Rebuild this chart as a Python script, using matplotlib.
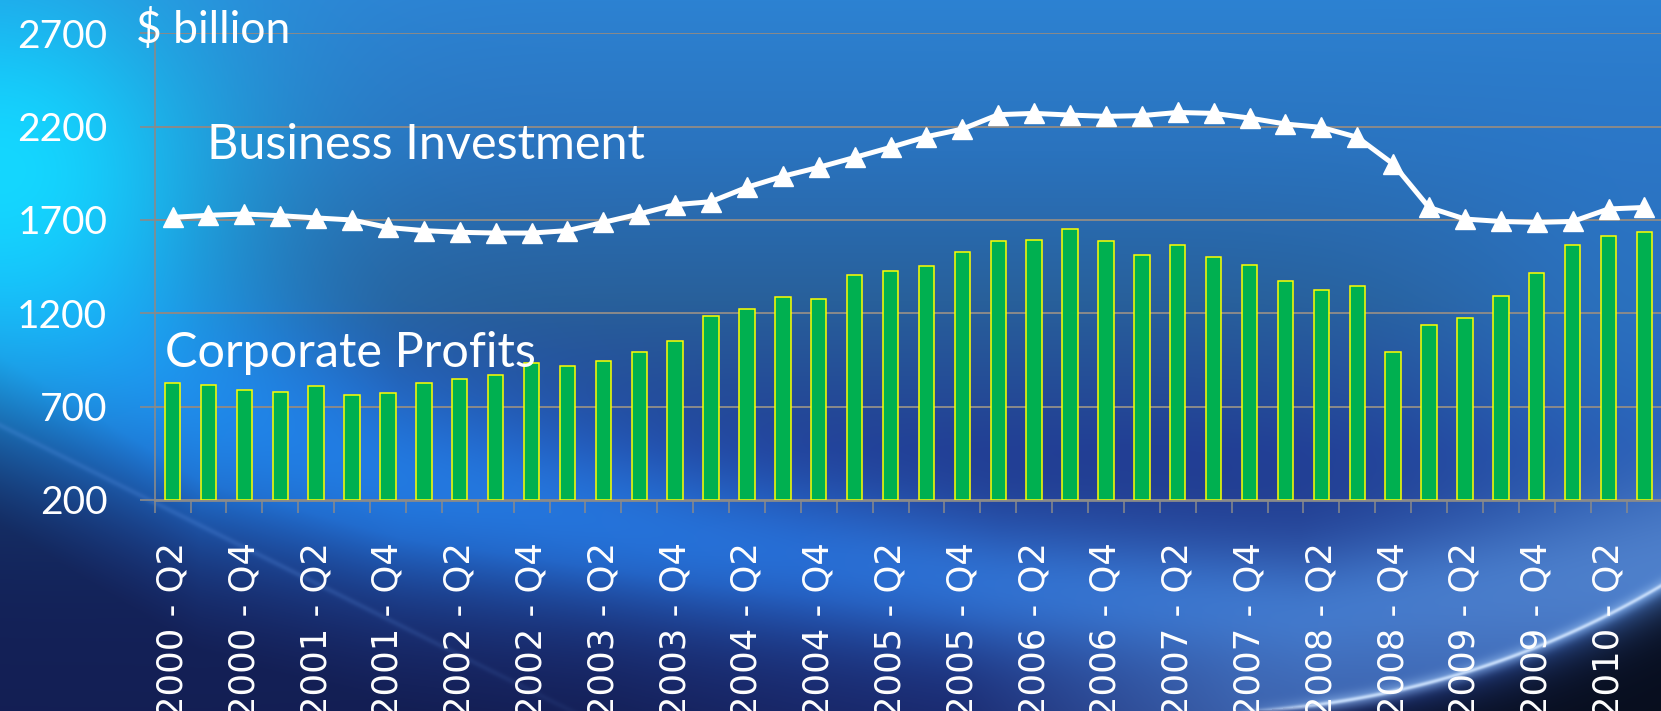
import numpy as np
import matplotlib
matplotlib.use("Agg")
import matplotlib.pyplot as plt
from matplotlib.ticker import FixedLocator, NullFormatter

# --- data: US corporate profits vs business investment, $ billion ---
years = list(range(2000, 2011))
quarters = [f"{y} - Q{q}" for y in years for q in range(1, 5)][1:43]  # 2000 Q2 .. 2010 Q3

profits = [828, 814, 787, 780, 812, 764, 775, 828, 850, 868,
           935, 916, 946, 991, 1050, 1183, 1225, 1289, 1278, 1407,
           1427, 1451, 1530, 1587, 1594, 1653, 1587, 1514, 1564, 1500,
           1460, 1375, 1327, 1348, 993, 1135, 1177, 1294, 1416, 1564,
           1612, 1637]

investment = [1714, 1725, 1732, 1723, 1711, 1700, 1660, 1643, 1634, 1630,
              1630, 1643, 1687, 1732, 1782, 1798, 1875, 1934, 1982, 2035,
              2089, 2146, 2187, 2264, 2271, 2262, 2255, 2259, 2276, 2271,
              2246, 2214, 2196, 2143, 2000, 1767, 1705, 1692, 1687, 1692,
              1759, 1767]

y_ticks = [200, 700, 1200, 1700, 2200, 2700]

W, H = 1661, 711
DPI = 100
UI_FONT = ["Lato", "DejaVu Sans"]
GRID = "#8a8a8a"


def blend(img, col, w):
    w = np.clip(w, 0, 1)[..., None]
    return img * (1 - w) + np.array(col, float) / 255.0 * w


def ramp(v, lo, hi):
    return np.clip((v - lo) / (hi - lo), 0, 1)


# --- slide backdrop: blue gradient with a light swoosh and a dark arc ---
yy, xx = np.mgrid[0:H, 0:W].astype(float)

stops_y = [0, 150, 300, 450, 711]
stops_c = np.array([(45, 130, 210), (42, 115, 190), (40, 96, 155),
                    (34, 62, 148), (28, 45, 118)], float) / 255.0
bg = np.stack([np.interp(yy, stops_y, stops_c[:, k]) for k in range(3)], axis=-1)

# light glow at the right edge
bg = blend(bg, (45, 125, 215), 0.6 * np.exp(-(((xx - W) / 230) ** 2 + ((yy - 330) / 260) ** 2)))

# swoosh band from top-left down to bottom-right
band_x = [0, 200, 400, 700, 1000, 1300, 1661]
band_y = [250, 400, 480, 540, 585, 615, 570]
band_w = [210, 160, 115, 85, 70, 70, 80]
yc = np.interp(xx, band_x, band_y)
bw = np.interp(xx, band_x, band_w)
d = (yy - yc) / bw
band_col = np.stack([np.interp(xx, [0, 800, 1661], c) for c in
                     ([30, 40, 80], [140, 115, 130], [245, 220, 205])], axis=-1) / 255.0
wband = (0.9 * np.exp(-d ** 2))[..., None]
bg = bg * (1 - wband) + band_col * wband

# dark navy below the swoosh on the left
wdark = ramp(yy - (yc + 0.5 * bw), 0, 170) * ramp(-xx, -1100, -600)
bg = blend(bg, (18, 28, 78), 0.85 * wdark)

# cyan glow in the upper-left corner
bg = blend(bg, (20, 215, 255), np.exp(-((xx / 230) ** 2 + ((yy - 170) / 210) ** 2)))

# faint streak across the lower-left
dist = np.abs((yy - 425) - (xx * 225 / 450)) / np.hypot(1, 225 / 450)
bg = blend(bg, (110, 165, 250), 0.18 * np.exp(-(dist / 3) ** 2) * ramp(-xx, -700, -300))

# horizon arc in the bottom-right corner
ax0, ay0, R = 1197.6, -197.0, 909.0
inside = np.clip(R ** 2 - (xx - ax0) ** 2, 0, None)
y_arc = np.where(xx > ax0, ay0 + np.sqrt(inside), 1e4)
da = yy - y_arc
above = np.where(xx > ax0, np.clip(-da, 0, None), 711 - yy)
bg = blend(bg, (80, 130, 205), 0.6 * np.exp(-(above / 110) ** 2) * (da < 0) * ramp(xx, 950, 1250))
bg = blend(bg, (8, 14, 30), (1 - np.exp(-np.clip(da, 0, None) / 25)) * (da > 0))
bg = blend(bg, (235, 242, 255), np.exp(-(da / 2.2) ** 2) * ramp(xx, 1230, 1330))
bg = blend(bg, (150, 190, 240), 0.5 * np.exp(-(da / 8) ** 2) * ramp(xx, 1230, 1330))

fig = plt.figure(figsize=(W / DPI, H / DPI), dpi=DPI)
bg_ax = fig.add_axes([0, 0, 1, 1], zorder=-1)
bg_ax.imshow(np.clip(bg, 0, 1), aspect="auto", interpolation="bilinear")
bg_ax.axis("off")

# --- chart ---
x0, x1 = 154.6, 154.6 + 42 * 35.9
ytop, ybot = 33.3, 500.0
ax = fig.add_axes([x0 / W, 1 - ybot / H, (x1 - x0) / W, (ybot - ytop) / H])
ax.patch.set_alpha(0)

x = np.arange(len(profits))
ax.bar(x, np.array(profits) - 200, bottom=200, width=0.43, color="#00B050",
       edgecolor="#FFFF00", linewidth=1.1, zorder=3)
ax.plot(x, investment, color="white", lw=3.6, marker="^", markersize=15,
        markeredgecolor="white", markerfacecolor="white", zorder=4,
        solid_joinstyle="round")

ax.set_xlim(-0.5, len(profits) - 0.5)
ax.set_ylim(200, 2700)
ax.set_yticks(y_ticks)
ax.yaxis.grid(True, color=GRID, lw=1.4)
ax.set_axisbelow(True)

for s in ("top", "right"):
    ax.spines[s].set_visible(False)
ax.spines["left"].set_color(GRID)
ax.spines["left"].set_linewidth(1.2)
ax.spines["bottom"].set_color(GRID)
ax.spines["bottom"].set_linewidth(2)

ax.tick_params(axis="y", colors=GRID, length=11, width=1.2, pad=23,
               labelcolor="white", labelsize=28)
for lab in ax.get_yticklabels():
    lab.set_family(UI_FONT)

ax.set_xticks(x[::2])
ax.set_xticklabels(quarters[::2], rotation=90, color="white", fontsize=25.5,
                   family="DejaVu Sans", va="top", ha="center")
ax.tick_params(axis="x", which="major", length=0, pad=30)
ax.xaxis.set_minor_locator(FixedLocator(np.arange(-0.5, len(profits), 1.0)))
ax.xaxis.set_minor_formatter(NullFormatter())
ax.tick_params(axis="x", which="minor", length=9.4, width=1.1, color=GRID)

ax.text(0.96, 2028, "Business Investment", color="white", fontsize=35,
        family=UI_FONT, va="baseline", ha="left", zorder=5)
ax.text(-0.21, 910, "Corporate Profits", color="white", fontsize=35,
        family=UI_FONT, va="baseline", ha="left", zorder=5)
fig.text(136 / W, 1 - 43 / H, "$ billion", color="white", fontsize=32,
         family=UI_FONT, va="baseline", ha="left")

fig.savefig("out.png", dpi=DPI)
